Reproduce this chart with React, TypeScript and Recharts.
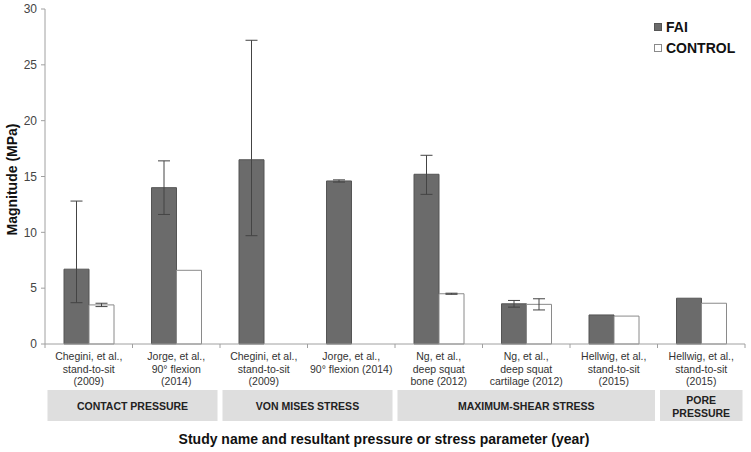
import React from "react";
import { BarChart, Bar, XAxis, YAxis, ErrorBar } from "recharts";

const FONT = '"Liberation Sans", Arial, sans-serif';

const CATEGORY_LINES = [
  ["Chegini, et al.,", "stand-to-sit", "(2009)"],
  ["Jorge, et al.,", "90° flexion", "(2014)"],
  ["Chegini, et al.,", "stand-to-sit", "(2009)"],
  ["Jorge, et al.,", "90° flexion (2014)"],
  ["Ng, et al.,", "deep squat", "bone (2012)"],
  ["Ng, et al.,", "deep squat", "cartilage (2012)"],
  ["Hellwig, et al.,", "stand-to-sit", "(2015)"],
  ["Hellwig, et al.,", "stand-to-sit", "(2015)"],
];

const FAI = [6.7, 14.0, 16.5, 14.6, 15.2, 3.6, 2.6, 4.1];
const CONTROL = [3.5, 6.6, null, null, 4.5, 3.55, 2.5, 3.65];

// [below, above] the bar value
const FAI_ERR = [[3.0, 6.1], [2.4, 2.4], [6.8, 10.7], [0.1, 0.1], [1.8, 1.7], [0.3, 0.3], null, null];
const CONTROL_ERR = [[0.15, 0.15], null, null, null, [0.05, 0.05], [0.5, 0.5], null, null];

const GROUP_LABELS = [["CONTACT PRESSURE"], ["VON MISES STRESS"], ["MAXIMUM-SHEAR STRESS"], ["PORE", "PRESSURE"]];
const GROUP_SPANS = [2, 2, 3, 1];

const SERIES = [
  { name: "FAI", fill: "#6b6b6b", stroke: "#555" },
  { name: "CONTROL", fill: "#fff", stroke: "#8a8a8a" },
];

const Y_TICKS = [0, 5, 10, 15, 20, 25, 30];

const W = 751;
const H = 452;
const MARGIN = { top: 9, right: 6, left: 0, bottom: 0 };
const Y_W = 45;
const BW = (W - MARGIN.left - MARGIN.right - Y_W) / CATEGORY_LINES.length;

const data = CATEGORY_LINES.map((lines, i) => ({
  id: "c" + i,
  fai: FAI[i],
  control: CONTROL[i],
  faiErr: FAI_ERR[i] ?? undefined,
  controlErr: CONTROL_ERR[i] ?? undefined,
}));

const groupStart: Record<number, number> = {};
let acc = 0;
GROUP_SPANS.forEach((s, g) => {
  groupStart[acc] = g;
  acc += s;
});

function CategoryTick(props: any) {
  const { x, y, index } = props;
  const lines = CATEGORY_LINES[index];
  const left = x - BW / 2;
  const g = groupStart[index];
  return (
    <g>
      <line x1={left} x2={left} y1={y} y2={y + 4} stroke="#a0a0a0" />
      {index === CATEGORY_LINES.length - 1 && (
        <line x1={left + BW} x2={left + BW} y1={y} y2={y + 4} stroke="#a0a0a0" />
      )}
      <text x={x} y={y + 16} textAnchor="middle" fontSize={10.5} fill="#333" fontFamily={FONT}>
        {lines.map((l, k) => (
          <tspan key={k} x={x} dy={k === 0 ? 0 : 12.7}>
            {l}
          </tspan>
        ))}
      </text>
      {g !== undefined && (
        <g>
          <rect
            x={left + 2.5}
            y={y + 46}
            width={GROUP_SPANS[g] * BW - 5}
            height={31}
            fill="#dedede"
          />
          <text
            x={left + (GROUP_SPANS[g] * BW) / 2}
            y={y + 62 - (GROUP_LABELS[g].length - 1) * 6.5}
            textAnchor="middle"
            dominantBaseline="central"
            fontSize={10.5}
            fontWeight="bold"
            fill="#222"
            fontFamily={FONT}
          >
            {GROUP_LABELS[g].map((l, k) => (
              <tspan key={k} x={left + (GROUP_SPANS[g] * BW) / 2} dy={k === 0 ? 0 : 13}>
                {l}
              </tspan>
            ))}
          </text>
        </g>
      )}
    </g>
  );
}

export default function App() {
  return (
    <div style={{ position: "absolute", left: 0, top: 0, width: W, height: H, background: "#fff" }}>
      <BarChart width={W} height={H} data={data} margin={MARGIN} barSize={25} barGap={0}>
        <YAxis
          width={Y_W}
          domain={[0, 30]}
          ticks={Y_TICKS}
          tickSize={4}
          tickMargin={4}
          axisLine={{ stroke: "#a0a0a0" }}
          tickLine={{ stroke: "#a0a0a0" }}
          tick={{ fontSize: 12, fill: "#444", fontFamily: FONT }}
          label={{
            value: "Magnitude (MPa)",
            angle: -90,
            position: "insideLeft",
            offset: 0,
            dx: 12,
            dy: 3,
            style: { textAnchor: "middle", fontSize: 14, fontWeight: "bold", fill: "#111", fontFamily: FONT },
          }}
        />
        <XAxis
          dataKey="id"
          height={108}
          interval={0}
          tickSize={0}
          tickMargin={0}
          tickLine={false}
          axisLine={{ stroke: "#a0a0a0" }}
          tick={<CategoryTick />}
          label={{
            value: "Study name and resultant pressure or stress parameter (year)",
            position: "insideBottom",
            offset: 8,
            dx: -11,
            style: { fontSize: 14, fontWeight: "bold", fill: "#111", fontFamily: FONT },
          }}
        />
        <Bar dataKey="fai" name="FAI" fill={SERIES[0].fill} stroke={SERIES[0].stroke} strokeWidth={1} isAnimationActive={false}>
          <ErrorBar dataKey="faiErr" width={6} stroke="#444" strokeWidth={1} direction="y" />
        </Bar>
        <Bar dataKey="control" name="CONTROL" fill={SERIES[1].fill} stroke={SERIES[1].stroke} strokeWidth={1} isAnimationActive={false}>
          <ErrorBar dataKey="controlErr" width={6} stroke="#444" strokeWidth={1} direction="y" />
        </Bar>
      </BarChart>
      <div style={{ position: "absolute", left: 654, top: 16, fontFamily: FONT }}>
        {SERIES.map((it) => (
          <div key={it.name} style={{ display: "flex", alignItems: "center", height: 21 }}>
            <span
              style={{
                width: 6,
                height: 6,
                background: it.fill,
                border: `1px solid ${it.stroke}`,
                marginRight: 4,
              }}
            />
            <span style={{ fontSize: 14, fontWeight: "bold", color: "#111" }}>{it.name}</span>
          </div>
        ))}
      </div>
    </div>
  );
}
